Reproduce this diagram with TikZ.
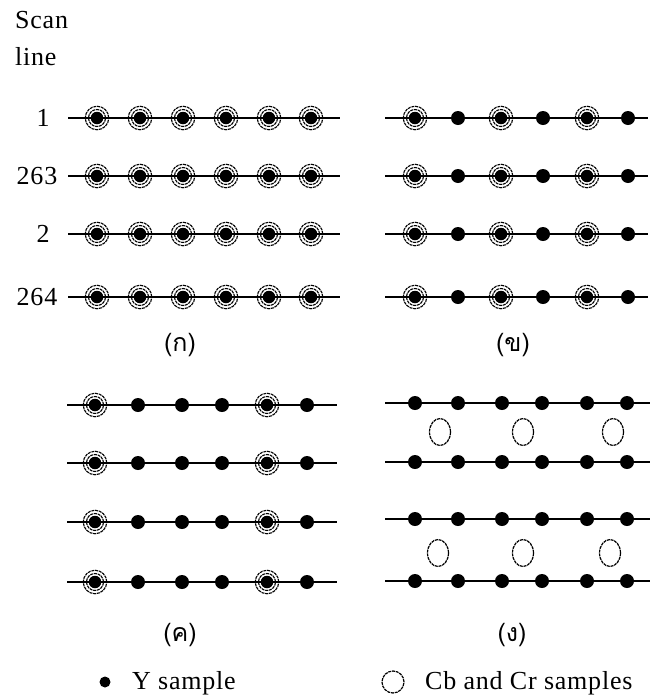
\documentclass[tikz,border=0pt]{standalone}
\usepackage{fontspec}
\usetikzlibrary{shapes.geometric}
\setmainfont{Liberation Serif}[LetterSpace=3]
\newfontfamily\thaifont[Script=Thai]{Loma}
\begin{document}
\begin{tikzpicture}[x=1pt,y=-1pt,
  scanline/.style={line width=1.6pt},
  ydot/.style={circle,fill=black,inner sep=0pt,minimum size=14pt},
  cdot/.style={circle,fill=black,inner sep=0pt,minimum size=12.5pt},
  ringout/.style={circle,draw=black,line width=1.1pt,dash pattern=on 3pt off 0.8pt,inner sep=0pt,minimum size=23.5pt},
  ringin/.style={circle,draw=black,line width=1.1pt,dash pattern=on 3pt off 0.8pt,inner sep=0pt,minimum size=17pt},
  cbcr/.style={ellipse,draw=black,line width=1.2pt,dash pattern=on 3pt off 0.8pt,inner sep=0pt,minimum width=21pt,minimum height=27pt},
  lab/.style={inner sep=0pt,font=\fontsize{26}{30}\selectfont},
  captext/.style={inner sep=0pt,font=\thaifont\fontsize{25}{29}\selectfont},
]
\useasboundingbox (0,0) rectangle (650,697);
% ---------- labels at left ----------
\node[lab,anchor=base west] (scan) at (15,28) {Scan};
\node[lab,anchor=base west] (line) at (15,65) {line};
\node[lab] (n1) at (43,118) {1};
\node[lab] (n263) at (37,176) {263};
\node[lab] (n2) at (43,234) {2};
\node[lab] (n264) at (37,297) {264};
% ---------- panel a ----------
\foreach \r/\y in {1/118,2/176,3/234,4/297}{
  \coordinate (a\r s) at (68,\y);
  \coordinate (a\r e) at (340,\y);
  \draw[scanline] (a\r s) -- (a\r e);
  \foreach \c/\x in {1/97,2/140,3/183,4/226,5/269,6/311}{
    \node[ringout] (a\r c\c o) at (\x,\y) {};
    \node[ringin] (a\r c\c i) at (\x,\y) {};
    \node[cdot] (a\r c\c) at (\x,\y) {};
  }
}
% ---------- panel b ----------
\foreach \r/\y in {1/118,2/176,3/234,4/297}{
  \coordinate (b\r s) at (385,\y);
  \coordinate (b\r e) at (648,\y);
  \draw[scanline] (b\r s) -- (b\r e);
  \foreach \c/\x in {1/415,3/501,5/587}{
    \node[ringout] (b\r c\c o) at (\x,\y) {};
    \node[ringin] (b\r c\c i) at (\x,\y) {};
    \node[cdot] (b\r c\c) at (\x,\y) {};
  }
  \foreach \c/\x in {2/458,4/543,6/628}{
    \node[ydot] (b\r c\c) at (\x,\y) {};
  }
}
% ---------- panel c ----------
\foreach \r/\y in {1/405,2/463,3/522,4/582}{
  \coordinate (c\r s) at (67,\y);
  \coordinate (c\r e) at (337,\y);
  \draw[scanline] (c\r s) -- (c\r e);
  \foreach \c/\x in {1/95,5/267}{
    \node[ringout] (c\r c\c o) at (\x,\y) {};
    \node[ringin] (c\r c\c i) at (\x,\y) {};
    \node[cdot] (c\r c\c) at (\x,\y) {};
  }
  \foreach \c/\x in {2/138,3/182,4/222,6/307}{
    \node[ydot] (c\r c\c) at (\x,\y) {};
  }
}
% ---------- panel d ----------
\foreach \r/\y in {1/403,2/462,3/519,4/581}{
  \coordinate (d\r s) at (385,\y);
  \coordinate (d\r e) at (650,\y);
  \draw[scanline] (d\r s) -- (d\r e);
  \foreach \c/\x in {1/415,2/458,3/502,4/542,5/587,6/627}{
    \node[ydot] (d\r c\c) at (\x,\y) {};
  }
}
\node[cbcr] (o11) at (440,432) {};
\node[cbcr] (o12) at (523,432) {};
\node[cbcr] (o13) at (613,432) {};
\node[cbcr] (o21) at (438,553) {};
\node[cbcr] (o22) at (523,553) {};
\node[cbcr] (o23) at (610,553) {};
% ---------- captions ----------
\node[captext] (capa) at (180,345) {(ก)};
\node[captext] (capb) at (513,345) {(ข)};
\node[captext] (capc) at (180,635) {(ค)};
\node[captext] (capd) at (512,635) {(ง)};
% ---------- legend ----------
\node[circle,fill=black,inner sep=0pt,minimum size=11pt] (legy) at (105,682) {};
\node[lab,anchor=base west] (legytext) at (132,689) {Y sample};
\node[circle,draw=black,line width=1.2pt,dash pattern=on 3pt off 0.8pt,inner sep=0pt,minimum size=22pt] (legc) at (393,682) {};
\node[lab,anchor=base west] (legctext) at (425,689) {Cb and Cr samples};
\end{tikzpicture}
\end{document}
